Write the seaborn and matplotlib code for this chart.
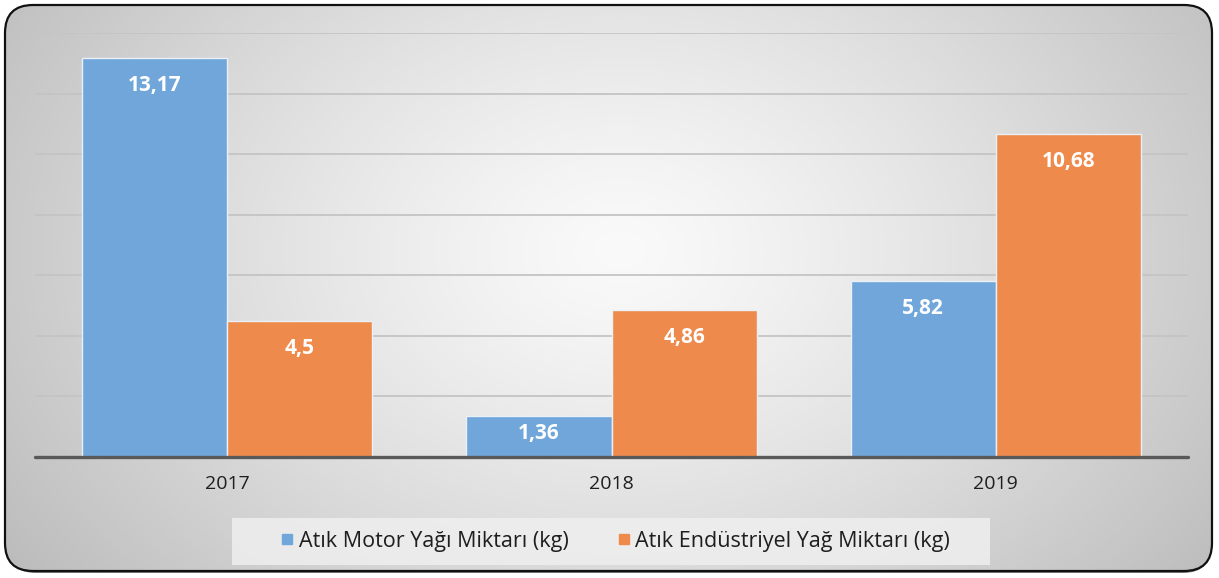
import numpy as np
import pandas as pd
import matplotlib
matplotlib.use("Agg")
import matplotlib.pyplot as plt
import seaborn as sns
from matplotlib.patches import FancyBboxPatch, Rectangle
from matplotlib.lines import Line2D

years = ["2017", "2018", "2019"]
series_names = ["Atık Motor Yağı Miktarı (kg)", "Atık Endüstriyel Yağ Miktarı (kg)"]
motor = [13.17, 1.36, 5.82]
endustriyel = [4.5, 4.86, 10.68]
label_motor = ["13,17", "1,36", "5,82"]
label_endus = ["4,5", "4,86", "10,68"]
colors = ["#70A6D9", "#EE8B4C"]

df = pd.DataFrame({
    "Yıl": years * 2,
    "Seri": [series_names[0]] * 3 + [series_names[1]] * 3,
    "Değer": motor + endustriyel,
})

sns.set_theme(style="white")
plt.rcParams["font.family"] = ["Open Sans", "DejaVu Sans"]

W, H = 1219, 578
fig = plt.figure(figsize=(W / 100, H / 100), dpi=100)
fig.patch.set_facecolor("white")

# background with rounded frame and radial gradient
bg = fig.add_axes([0, 0, 1, 1], zorder=0)
bg.set_xlim(0, W)
bg.set_ylim(H, 0)
bg.axis("off")
yy, xx = np.mgrid[0:H, 0:W]
cx, cy = 620, 250
r = np.sqrt(((xx - cx) / (W * 0.62)) ** 2 + ((yy - cy) / (H * 0.95)) ** 2)
r = np.clip(r / r.max(), 0, 1)
c0, c1 = 0.98, 0.73
grad = c0 + (c1 - c0) * r ** 1.25
img = np.dstack([grad, grad, grad])
shadow = FancyBboxPatch((8, 7), W - 16, H - 12, boxstyle="round,pad=0,rounding_size=28",
                        facecolor="#7a7a7a", edgecolor="none", zorder=0)
bg.add_patch(shadow)
frame = FancyBboxPatch((5, 5), W - 12, H - 12, boxstyle="round,pad=0,rounding_size=28",
                       facecolor="none", edgecolor="#111111", linewidth=1.6, zorder=3)
bg.add_patch(frame)
im = bg.imshow(img, extent=(0, W, H, 0), zorder=1, aspect="auto")
clip = FancyBboxPatch((5, 5), W - 12, H - 12, boxstyle="round,pad=0,rounding_size=28",
                      transform=bg.transData, facecolor="none", edgecolor="none")
bg.add_patch(clip)
im.set_clip_path(clip)
# legend box
bg.add_patch(Rectangle((232, 518), 758, 47, facecolor="#efefef", edgecolor="none",
                       alpha=0.85, zorder=2))

# main axes
ax = fig.add_axes([35 / W, (H - 457) / H, (1188 - 35) / W, (457 - 33) / H], zorder=2)
ax.set_facecolor("none")
sns.barplot(data=df, x="Yıl", y="Değer", hue="Seri", palette=colors, width=0.755,
            saturation=1, edgecolor="#eaf0f6", linewidth=1.0, ax=ax, legend=False, zorder=3)
ax.set_ylim(0, 14)
ax.set_xlim(-0.5, 2.5)
ax.set_yticks(np.arange(2, 15, 2))
ax.yaxis.grid(True, color="#c4c4c4", linewidth=1.3)
ax.set_axisbelow(True)
ax.tick_params(axis="y", left=False, labelleft=False)
ax.tick_params(axis="x", length=0, pad=13, labelsize=14, labelcolor="#1e1e1e")
for s in ax.spines.values():
    s.set_visible(False)
ax.axhline(0, color="#595959", linewidth=2.4, zorder=5, clip_on=False)
ax.set_xlabel("")
ax.set_ylabel("")

for cont, labels in zip(ax.containers, [label_motor, label_endus]):
    for bar, lab in zip(cont, labels):
        v = bar.get_height()
        y = max(v - 0.92, v * 0.58)
        ax.text(bar.get_x() + bar.get_width() / 2, y, lab, ha="center", va="center",
                color="white", fontsize=15, fontweight="bold", zorder=6)

handles = [Line2D([], [], marker="s", linestyle="none", markersize=7.5,
                  markerfacecolor=c, markeredgecolor=c) for c in colors]
leg = fig.legend(handles, series_names, loc="center", ncol=2,
                 bbox_to_anchor=(616 / W, (H - 541) / H), frameon=False,
                 fontsize=15.5, handlelength=0.5, handletextpad=0.3, columnspacing=2.3,
                 borderpad=0.2)
for t in leg.get_texts():
    t.set_color("#1e1e1e")

fig.savefig("out.png", dpi=100)
